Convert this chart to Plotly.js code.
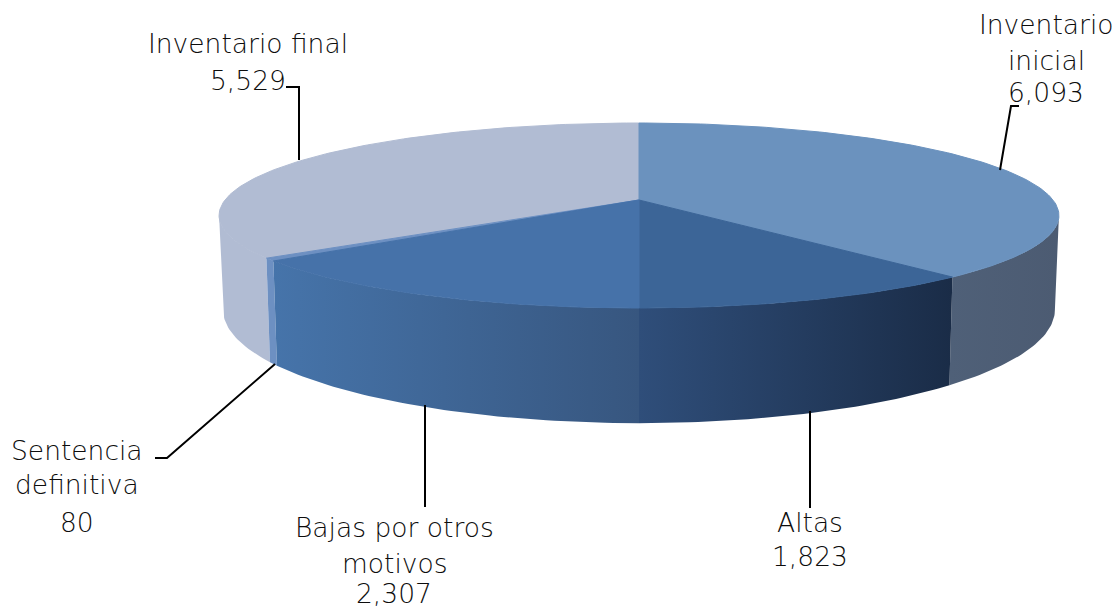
<!DOCTYPE html>
<html><head><meta charset="utf-8">
<script src="https://cdn.plot.ly/plotly-3.0.1.min.js"></script>
<style>html,body{margin:0;padding:0;background:#fff}</style></head>
<body><div id="chart" style="width:1120px;height:609px"></div>
<script>
const categories = ["Inventario inicial","Altas","Bajas por otros motivos","Sentencia definitiva","Inventario final"];
const values = [6093,1823,2307,80,5529];
const labelLines = [["Inventario","inicial"],["Altas"],["Bajas por otros","motivos"],["Sentencia","definitiva"],["Inventario final"]];
const topColors = ["#6b92be","#3c6597","#4672a9","#6d90c2","#b1bcd3"];
const wallColors = [["#4f6078","#4c5b72"],["#2f4e7a","#1a2c47"],["#4674aa","#37567f"],["#6d90c2","#6d90c2"],["#b1bcd3","#b1bcd3"]];
const labelX = [1046,810,394,77,248];
const labelLineY = [[24,60,92],[522,556],[527,563,593],[450,484,522],[43,80]];

const FONT = "'DejaVu Sans', sans-serif";
const K = 0.1676;
const top_ = {cx:639, cy:200, a:89.9, b:414};
const bot_ = {cx:639, cy:291, a:110, b:410};
const rad = d => d*Math.PI/180;
function pt(g,deg){const t=rad(deg),d=1+K*Math.cos(t);
  return [g.cx+g.b*Math.sin(t)/d, g.cy-g.a*Math.cos(t)/d];}
function arc(g,d0,d1){const n=Math.max(2,Math.ceil(Math.abs(d1-d0))),o=[];
  for(let i=0;i<=n;i++)o.push(pt(g,d0+(d1-d0)*i/n));return o;}

const total = values.reduce((a,b)=>a+b,0);
let acc=0;
const spans = values.map(v=>{const s=acc;acc+=v;return [s/total*360,acc/total*360];});
const tanDeg = Math.acos(-K)*180/Math.PI;
const visLo = tanDeg, visHi = 360-tanDeg;

function poly(pts,extra){return Object.assign({type:"scatter",mode:"lines",x:pts.map(p=>p[0]),y:pts.map(p=>p[1]),
  fill:"toself",hoverinfo:"skip",showlegend:false},extra);}

const traces=[];
[4,0,3,2,1].forEach(i=>{
  const lo=Math.max(spans[i][0],visLo),hi=Math.min(spans[i][1],visHi);
  if(hi<=lo)return;
  const pts=arc(top_,lo,hi).concat(arc(bot_,hi,lo));pts.push(pts[0]);
  traces.push(poly(pts,{fillcolor:wallColors[i][0],line:{width:0,color:wallColors[i][0]},
    fillgradient:{type:"horizontal",colorscale:[[0,wallColors[i][0]],[1,wallColors[i][1]]]}}));
});
[4,3,0,1,2].forEach(i=>{
  const pts=[[top_.cx,top_.cy]].concat(arc(top_,spans[i][0],spans[i][1]));pts.push(pts[0]);
  traces.push(poly(pts,{fillcolor:topColors[i],line:{width:1,color:topColors[i]}}));
});

const annotations=[];
categories.forEach((c,i)=>{
  const lines=labelLines[i].concat([values[i].toLocaleString("en-US")]);
  lines.forEach((t,j)=>annotations.push({x:labelX[i],y:labelLineY[i][j],xref:"x",yref:"y",showarrow:false,
    text:t,align:"center",xanchor:"center",yanchor:"middle",
    font:{family:FONT,size:26.5,color:"#0d0d0d",weight:200}}));
});

const leaders=[
 "M1000,170 L1011,106 L1019,106",
 "M810,411 L810,508",
 "M425,405 L425,507",
 "M275,364 L167,458 L155,458",
 "M299,160 L299,87 L286,87"];
const shapes=leaders.map(p=>({type:"path",path:p,xref:"x",yref:"y",line:{color:"#000",width:2}}));

Plotly.newPlot("chart",traces,{
  width:1120,height:609,margin:{l:0,r:0,t:0,b:0},paper_bgcolor:"#fff",plot_bgcolor:"#fff",
  showlegend:false,
  xaxis:{range:[0,1120],visible:false,fixedrange:true},
  yaxis:{range:[609,0],visible:false,fixedrange:true},
  annotations,shapes
},{staticPlot:true,displayModeBar:false});
</script></body></html>
